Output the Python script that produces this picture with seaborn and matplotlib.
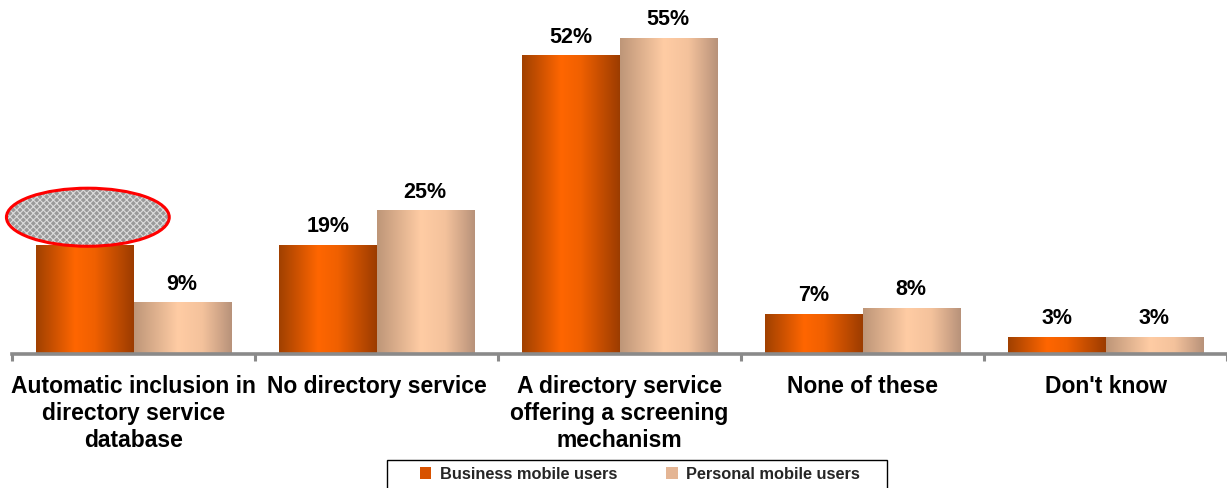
import numpy as np
import pandas as pd
import matplotlib
matplotlib.use("Agg")
import matplotlib.pyplot as plt
from matplotlib.patches import Ellipse, Rectangle
from matplotlib.colors import LinearSegmentedColormap
import seaborn as sns

categories = [
    "Automatic inclusion in\ndirectory service\ndatabase",
    "No directory service",
    "A directory service\noffering a screening\nmechanism",
    "None of these",
    "Don't know",
]
series_names = ["Business mobile users", "Personal mobile users"]
business = [19, 19, 52, 7, 3]
personal = [9, 25, 55, 8, 3]
# the first business label is covered by a marker ellipse
hidden_labels = {(0, 0)}

df = pd.DataFrame({
    "category": categories * 2,
    "series": [series_names[0]] * 5 + [series_names[1]] * 5,
    "value": business + personal,
})

sns.set_theme(style="white")
plt.rcParams["font.family"] = ["Liberation Sans", "DejaVu Sans"]
plt.rcParams["font.weight"] = "bold"
plt.rcParams["hatch.linewidth"] = 0.8

fig = plt.figure(figsize=(12.27, 4.88), dpi=100)
ax = fig.add_axes([0.0098, 0.2746, 0.9902, 0.7254])

solid = ["#E05A00", "#F0BE9A"]
sns.barplot(data=df, x="category", y="value", hue="series", hue_order=series_names,
            order=categories, palette=solid, width=0.8, dodge=True, ax=ax,
            legend=False, errorbar=None, saturation=1)

cmaps = [
    LinearSegmentedColormap.from_list("biz", [(0, "#A04000"), (0.4, "#FF6600"),
                                              (0.6, "#F06000"), (1, "#9C3C00")]),
    LinearSegmentedColormap.from_list("per", [(0, "#BE9678"), (0.45, "#FFCCA4"),
                                              (0.7, "#F4C29C"), (1, "#B8927A")]),
]
grad = np.linspace(0, 1, 256).reshape(1, -1)

ax.set_xlim(-0.5, 4.5)
ax.set_ylim(0, 61.6)

for si, container in enumerate(ax.containers):
    vals = business if si == 0 else personal
    for ci, bar in enumerate(container):
        x0, w, h = bar.get_x(), bar.get_width(), bar.get_height()
        bar.set_facecolor("none")
        bar.set_edgecolor("none")
        im = ax.imshow(grad, cmap=cmaps[si], aspect="auto",
                       extent=[x0, x0 + w, 0, h], zorder=2, interpolation="bicubic")
        im.set_clip_path(bar)
        if (si, ci) not in hidden_labels:
            ax.annotate(f"{vals[ci]}%", (x0 + w / 2, h), xytext=(0, 5.5),
                        textcoords="offset points", ha="center", va="bottom",
                        fontsize=15.5, fontweight="bold", color="black")
        else:
            cx = x0 + w / 2 + 0.012
            cy = h + 4.8
            ell_fill = Ellipse((cx, cy), 0.67, 10.1, facecolor="#9a9a9a",
                               edgecolor="#dcdcdc", hatch="xxxxx", lw=0, zorder=5,
                               clip_on=False)
            ell_edge = Ellipse((cx, cy), 0.67, 10.1, facecolor="none",
                               edgecolor="#ff0000", lw=2.2, zorder=6, clip_on=False)
            ax.add_patch(ell_fill)
            ax.add_patch(ell_edge)

ax.set_xlim(-0.5, 4.5)
ax.set_ylim(0, 61.6)

for s in ["top", "right", "left"]:
    ax.spines[s].set_visible(False)
ax.spines["bottom"].set_color("#8a8a8a")
ax.spines["bottom"].set_linewidth(2.6)
ax.set_yticks([])
ax.set_xticks(range(5))
ax.set_xticklabels(categories, fontsize=16.5, fontweight="bold", linespacing=1.22,
                   va="top")
ax.tick_params(axis="x", which="major", length=0, pad=15, colors="black")
ax.set_xticks(np.arange(-0.5, 5.0, 1.0), minor=True)
ax.tick_params(axis="x", which="minor", length=5, width=2.2, color="#8a8a8a",
               direction="out", bottom=True)
ax.set_xlabel("")
ax.set_ylabel("")

# legend box: frame drawn separately so its width stays fixed
fig.patches.append(Rectangle((0.3154, -0.02), 0.4076, 0.077, transform=fig.transFigure,
                             facecolor="white", edgecolor="black", lw=1.0, zorder=1))
handles = [Rectangle((0, 0), 1, 1, facecolor=c, edgecolor="none") for c in ["#D85200", "#E4B594"]]
leg = fig.legend(handles, series_names, loc="center",
                 bbox_to_anchor=(0.5215, 0.028), ncol=2,
                 frameon=False, handlelength=0.7, columnspacing=3.0,
                 handleheight=0.7, handletextpad=0.5, borderaxespad=0, borderpad=0.2,
                 prop={"weight": "bold", "size": 11.8})
leg.set_zorder(3)

fig.savefig("out.png", dpi=100)
